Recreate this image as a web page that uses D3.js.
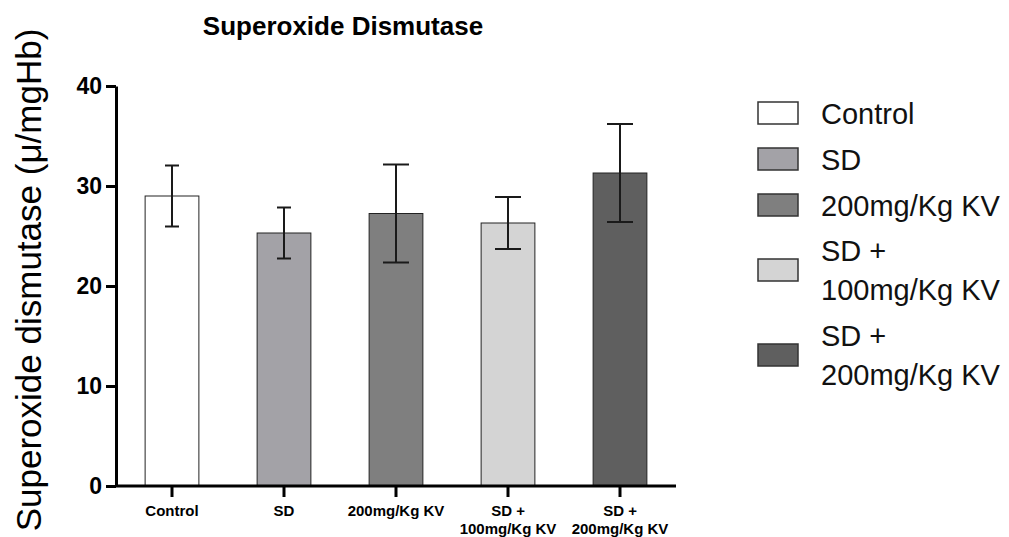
<!DOCTYPE html>
<html>
<head>
<meta charset="utf-8">
<script src="https://cdn.jsdelivr.net/npm/d3@7"></script>
<style>
  body { margin: 0; background: #fff; }
  text { font-family: "Liberation Sans", Arial, sans-serif; }
</style>
</head>
<body>
<div id="chart"></div>
<script>
// group names (axis labels split in lines)
const groups = ['Control', 'SD', '200mg/Kg KV', 'SD +\n100mg/Kg KV', 'SD +\n200mg/Kg KV'];
const means = [29.0, 25.3, 27.25, 26.3, 31.3];
const errors = [3.05, 2.55, 4.9, 2.6, 4.9];
const fills = ['#ffffff', '#a3a2a7', '#7f7f7f', '#d4d4d4', '#5f5f5f'];
const yTicks = [0, 10, 20, 30, 40];

const width = 1009, height = 537;
const margin = {left: 116, right: 334, top: 86, bottom: 51};

const svg = d3.select('#chart').append('svg')
  .attr('width', width)
  .attr('height', height);

const x = d3.scaleBand()
  .domain(groups)
  .range([margin.left, width - margin.right + 1])
  .paddingInner(0.52)
  .paddingOuter(0.26);

const y = d3.scaleLinear()
  .domain([0, 40])
  .range([height - margin.bottom, margin.top]);

// title
svg.append('text')
  .attr('x', 343)
  .attr('y', 35)
  .attr('text-anchor', 'middle')
  .style('font-size', '26px')
  .style('font-weight', 'bold')
  .text('Superoxide Dismutase');

// y axis title
svg.append('text')
  .attr('transform', 'translate(41,280) rotate(-90)')
  .attr('text-anchor', 'middle')
  .style('font-size', '35px')
  .text('Superoxide dismutase (\u03bc/mgHb)');

// bars
const bars = svg.append('g');
bars.selectAll('rect')
  .data(groups)
  .enter()
  .append('rect')
  .attr('x', d => x(d))
  .attr('y', (d, i) => y(means[i]))
  .attr('width', x.bandwidth())
  .attr('height', (d, i) => y(0) - y(means[i]))
  .style('fill', (d, i) => fills[i])
  .style('stroke', '#222')
  .style('stroke-width', 1);

// error bars
const err = svg.append('g')
  .style('stroke', '#1a1a1a')
  .style('stroke-width', 2);

groups.forEach((g, i) => {
  let cx = x(g) + x.bandwidth() / 2;
  let cap = i < 2 ? 7 : 13; // caps are narrower on the first two
  let top = y(means[i] + errors[i]);
  let bot = y(means[i] - errors[i]);
  err.append('line').attr('x1', cx).attr('x2', cx).attr('y1', top).attr('y2', bot);
  err.append('line').attr('x1', cx - cap).attr('x2', cx + cap).attr('y1', top).attr('y2', top);
  err.append('line').attr('x1', cx - cap).attr('x2', cx + cap).attr('y1', bot).attr('y2', bot);
});

// y axis
const yAxis = svg.append('g')
  .attr('transform', 'translate(' + margin.left + ',0)')
  .call(d3.axisLeft(y).tickValues(yTicks).tickSize(10).tickPadding(4).tickSizeOuter(0));
yAxis.select('.domain').style('stroke-width', 3);
yAxis.selectAll('.tick line').style('stroke-width', 3);
yAxis.selectAll('.tick text')
  .style('font-size', '23px')
  .style('font-weight', 'bold')
  .style('font-family', '"Liberation Sans", Arial, sans-serif');

// x axis
const xAxis = svg.append('g')
  .attr('transform', 'translate(0,' + y(0) + ')')
  .call(d3.axisBottom(x).tickSize(11).tickSizeOuter(0));
xAxis.select('.domain')
  .attr('d', 'M' + (margin.left - 1) + ',0H' + (width - margin.right + 1))
  .style('stroke-width', 3);
xAxis.selectAll('.tick line').style('stroke-width', 3);
xAxis.selectAll('.tick text').remove();
xAxis.selectAll('.tick').each(function(d) {
  let t = d3.select(this).append('text')
    .attr('fill', '#000')
    .attr('text-anchor', 'middle')
    .style('font-size', '15px')
    .style('font-weight', 'bold')
    .style('font-family', '"Liberation Sans", Arial, sans-serif');
  d.split('\n').forEach((line, k) => {
    t.append('tspan').attr('x', 0).attr('y', 30 + k * 18).text(line);
  });
});

// legend
const legendY = [113, 159, 205, 270, 355];
const legend = svg.append('g');
groups.forEach((g, i) => {
  legend.append('rect')
    .attr('x', 758)
    .attr('y', legendY[i] - 11)
    .attr('width', 40)
    .attr('height', 22)
    .style('fill', fills[i])
    .style('stroke', '#333')
    .style('stroke-width', 1.5);
  let lines = g.split('\n');
  let t = legend.append('text')
    .style('font-size', '29px')
    .attr('fill', '#111');
  lines.forEach((line, k) => {
    let off = (k - (lines.length - 1) / 2) * 38.5;
    t.append('tspan').attr('x', 821).attr('y', legendY[i] + off + 10.5).text(line);
  });
});
</script>
</body>
</html>
